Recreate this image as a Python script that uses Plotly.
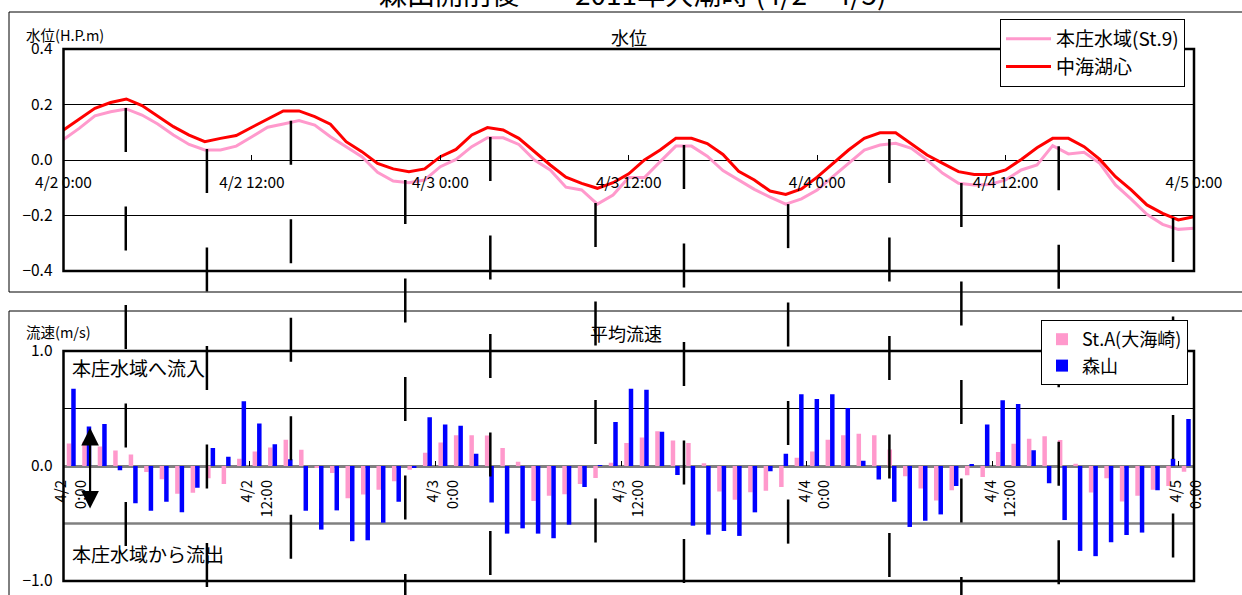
import pandas as pd
import plotly.graph_objects as go

# ---------------- data ----------------
start = pd.Timestamp("2011-04-02 00:00")
times = pd.date_range(start, periods=73, freq="h")

# water level (H.P. m), hourly 4/2 0:00 .. 4/5 0:00
level_honjo = [0.074, 0.114, 0.159, 0.174, 0.184, 0.162, 0.130, 0.090, 0.056, 0.036,
               0.036, 0.050, 0.084, 0.118, 0.130, 0.142, 0.126, 0.084, 0.048, 0.012,
               -0.044, -0.076, -0.082, -0.072, -0.024, 0.002, 0.048, 0.080, 0.080, 0.056,
               0.000, -0.036, -0.098, -0.108, -0.159, -0.126, -0.063, -0.063, -0.006, 0.050,
               0.050, 0.014, -0.038, -0.072, -0.106, -0.134, -0.159, -0.140, -0.108, -0.060,
               -0.012, 0.036, 0.054, 0.060, 0.042, 0.000, -0.048, -0.084, -0.090, -0.088,
               -0.072, -0.036, -0.018, 0.052, 0.022, 0.028, -0.012, -0.090, -0.141, -0.196,
               -0.232, -0.250, -0.246]
level_nakaumi = [0.108, 0.147, 0.186, 0.207, 0.220, 0.196, 0.159, 0.120, 0.090, 0.066,
                 0.078, 0.088, 0.118, 0.148, 0.177, 0.177, 0.156, 0.129, 0.066, 0.030,
                 -0.012, -0.032, -0.042, -0.032, 0.012, 0.038, 0.090, 0.117, 0.108, 0.078,
                 0.030, -0.018, -0.062, -0.084, -0.102, -0.082, -0.050, 0.000, 0.036, 0.078,
                 0.078, 0.059, 0.020, -0.041, -0.072, -0.112, -0.124, -0.104, -0.062, -0.014,
                 0.036, 0.078, 0.098, 0.098, 0.058, 0.018, -0.012, -0.042, -0.052, -0.052,
                 -0.036, 0.002, 0.044, 0.078, 0.078, 0.048, 0.002, -0.060, -0.108, -0.162,
                 -0.192, -0.216, -0.204]

# mean current velocity (m/s), hourly
vel_sta = [0.196, 0.210, 0.170, 0.135, 0.100, -0.052, -0.115, -0.242, -0.233, -0.107,
           -0.156, 0.063, 0.127, 0.161, 0.228, 0.141, -0.017, -0.060, -0.280, -0.248,
           -0.207, -0.133, -0.032, 0.115, 0.205, 0.268, 0.268, 0.265, 0.156, 0.037,
           -0.305, -0.259, -0.245, -0.156, -0.104, 0.029, 0.200, 0.248, 0.303, 0.222,
           0.200, 0.023, -0.222, -0.294, -0.228, -0.216, -0.182, 0.072, 0.127, 0.228,
           0.268, 0.280, 0.268, 0.144, -0.089, -0.196, -0.300, -0.210, -0.081, -0.095,
           0.121, 0.193, 0.236, 0.259, 0.225, 0.020, -0.231, -0.107, -0.308, -0.259,
           -0.207, -0.173, -0.049]
vel_moriyama = [0.671, 0.343, 0.366, -0.037, -0.323, -0.389, -0.311, -0.403, -0.190, 0.156,
                0.081, 0.562, 0.369, 0.190, 0.058, -0.389, -0.553, -0.386, -0.654, -0.646,
                -0.493, -0.311, -0.017, 0.424, 0.360, 0.349, 0.107, -0.317, -0.588, -0.542,
                -0.588, -0.628, -0.510, -0.182, 0.005, 0.383, 0.671, 0.663, 0.297, -0.078,
                -0.519, -0.597, -0.565, -0.608, -0.403, -0.046, 0.107, 0.625, 0.582, 0.625,
                0.504, 0.046, -0.118, -0.311, -0.530, -0.476, -0.421, -0.173, 0.012, 0.360,
                0.571, 0.539, 0.138, -0.150, -0.470, -0.738, -0.784, -0.663, -0.600, -0.579,
                -0.210, 0.063, 0.409]

# high / low water marks (time, level where the mark starts)
tide_times = ["2011-04-02 03:58", "2011-04-02 09:08", "2011-04-02 14:29", "2011-04-02 21:46",
              "2011-04-03 03:11", "2011-04-03 09:53", "2011-04-03 15:31", "2011-04-03 22:09",
              "2011-04-04 04:36", "2011-04-04 09:11", "2011-04-04 15:23", "2011-04-04 22:40"]
tide_levels = [0.187, 0.040, 0.141, -0.072, 0.083, -0.155, 0.054, -0.159, 0.076, -0.083, 0.050, -0.209]

tick_times = pd.date_range(start, periods=7, freq="12h")
top_tick_labels = ["4/2 0:00", "4/2 12:00", "4/3 0:00", "4/3 12:00", "4/4 0:00", "4/4 12:00", "4/5 0:00"]
bottom_tick_labels = ["4/2<br>0:00", "4/2<br>12:00", "4/3<br>0:00", "4/3<br>12:00",
                      "4/4<br>0:00", "4/4<br>12:00", "4/5<br>0:00"]

# ---------------- layout geometry ----------------
W, H = 1242, 595
def px_x(p):
    return p / W
def px_y(p):
    return 1 - p / H

FONT = "Noto Sans CJK JP, Noto Sans, sans-serif"
x_dom = [px_x(63.5), px_x(1194)]
y_dom = [px_y(271), px_y(49)]
y2_dom = [px_y(581), px_y(351)]

half_h = pd.Timedelta(minutes=30)
PINK = "#FF99CC"

fig = go.Figure()

fig.add_trace(go.Scatter(x=times, y=level_honjo, mode="lines", name="本庄水域(St.9)",
                         line=dict(color=PINK, width=3), xaxis="x", yaxis="y", legend="legend"))
fig.add_trace(go.Scatter(x=times, y=level_nakaumi, mode="lines", name="中海湖心",
                         line=dict(color="#FF0000", width=3), xaxis="x", yaxis="y", legend="legend"))

fig.add_trace(go.Bar(x=times, y=vel_sta, name="St.A(大海崎)", marker=dict(color=PINK, line_width=0),
                     xaxis="x2", yaxis="y2", legend="legend2"))
fig.add_trace(go.Bar(x=times, y=vel_moriyama, name="森山", marker=dict(color="#0000FF", line_width=0),
                     xaxis="x2", yaxis="y2", legend="legend2"))

# empty trace so the full-height overlay subplot exists
fig.add_trace(go.Scatter(x=[], y=[], xaxis="x3", yaxis="y3", showlegend=False, hoverinfo="skip"))

# overlay axis sharing the top chart's vertical scale but spanning the whole figure
k = 0.8 / (y_dom[1] - y_dom[0])
y3_lo = -0.4 - k * y_dom[0]
y3_hi = 0.4 + k * (1 - y_dom[1])

tickfont = dict(family=FONT, size=15.5, color="black")

fig.update_layout(
    template="none",
    width=W, height=H,
    margin=dict(l=0, r=0, t=0, b=0, pad=0),
    paper_bgcolor="white", plot_bgcolor="rgba(0,0,0,0)",
    font=dict(family=FONT, color="black"),
    barmode="group", bargap=0.42, bargroupgap=0,
    xaxis=dict(domain=x_dom, type="date", range=[times[0], times[-1]],
               anchor="free", position=(y_dom[0] + y_dom[1]) / 2, automargin=False,
               tickmode="array", tickvals=tick_times, ticktext=top_tick_labels,
               ticks="inside", ticklen=5, tickcolor="black", tickwidth=1,
               showgrid=False, showline=False, zeroline=False,
               tickfont=tickfont, ticklabelstandoff=11),
    yaxis=dict(domain=y_dom, range=[-0.4, 0.4], anchor="x", automargin=False,
               tickmode="array", tickvals=[-0.4, -0.2, 0, 0.2, 0.4], tickformat=".1f",
               showgrid=True, gridcolor="black", gridwidth=1,
               zeroline=True, zerolinecolor="black", zerolinewidth=1,
               showline=False, ticks="", tickfont=dict(family=FONT, size=15.5, color="black"),
               ticklabelstandoff=10),
    xaxis2=dict(domain=x_dom, type="date", range=[times[0] - half_h, times[-1] + half_h],
                anchor="free", position=(y2_dom[0] + y2_dom[1]) / 2, automargin=False,
                tickmode="array", tickvals=tick_times, ticktext=bottom_tick_labels,
                tickangle=-90, ticks="",
                minor=dict(tickmode="array", tickvals=[t - half_h for t in tick_times[1:]],
                           ticks="inside", ticklen=5, tickcolor="black", showgrid=False),
                showgrid=False, showline=False, zeroline=False,
                tickfont=dict(family=FONT, size=15, color="black"), ticklabelstandoff=10),
    yaxis2=dict(domain=y2_dom, range=[-1, 1], anchor="x2", automargin=False,
                tickmode="array", tickvals=[-1, -0.5, 0, 0.5, 1],
                ticktext=["−1.0", "", "0.0", "", "1.0"],
                showgrid=False, zeroline=True, zerolinecolor="#808080", zerolinewidth=2.5,
                showline=False, ticks="", tickfont=dict(family=FONT, size=15.5, color="black"),
                ticklabelstandoff=10),
    xaxis3=dict(domain=x_dom, type="date", range=[times[0], times[-1]], anchor="y3",
                visible=False, automargin=False),
    yaxis3=dict(domain=[0, 1], range=[y3_lo, y3_hi], anchor="x3", visible=False, automargin=False),
    legend=dict(x=px_x(1185), xanchor="right", y=px_y(19), yanchor="top",
                bgcolor="white", bordercolor="black", borderwidth=1, itemwidth=45,
                font=dict(family=FONT, size=19, color="black"), traceorder="normal"),
    legend2=dict(x=px_x(1188), xanchor="right", y=px_y(320), yanchor="top",
                 bgcolor="white", bordercolor="black", borderwidth=1,
                 font=dict(family=FONT, size=18, color="black"), traceorder="normal"),
)

shapes = []
# outer chart frames
shapes.append(dict(type="rect", xref="paper", yref="paper", x0=px_x(9), x1=1.02,
                   y0=px_y(292), y1=px_y(12), line=dict(color="black", width=1), layer="above"))
shapes.append(dict(type="rect", xref="paper", yref="paper", x0=px_x(9), x1=1.02,
                   y0=-0.05, y1=px_y(311), line=dict(color="black", width=1), layer="above"))
# grid lines of the velocity chart
shapes.append(dict(type="line", xref="x2 domain", yref="y2", x0=0, x1=1, y0=0.5, y1=0.5,
                   line=dict(color="black", width=1), layer="below"))
shapes.append(dict(type="line", xref="x2 domain", yref="y2", x0=0, x1=1, y0=-0.5, y1=-0.5,
                   line=dict(color="#808080", width=2.5), layer="below"))
# plot-area borders
shapes.append(dict(type="rect", xref="x domain", yref="y domain", x0=0, x1=1, y0=0, y1=1,
                   line=dict(color="black", width=2.5), layer="above"))
shapes.append(dict(type="rect", xref="x2 domain", yref="y2 domain", x0=0, x1=1, y0=0, y1=1,
                   line=dict(color="black", width=2.5), layer="above"))
# high/low water marks
for t, lv in zip(tide_times, tide_levels):
    shapes.append(dict(type="line", xref="x3", yref="y3", x0=t, x1=t, y0=lv, y1=y3_lo,
                       line=dict(color="black", width=2.5, dash="44px,54.5px"), layer="above"))
fig.update_layout(shapes=shapes)

ann = []
ann.append(dict(text="森山開削後　　2011年大潮時 (4/2～4/5)", xref="paper", yref="paper",
                x=px_x(632), y=1, xanchor="center", yanchor="middle", yshift=7,
                showarrow=False, font=dict(family=FONT, size=28, color="black")))
ann.append(dict(text="水位", xref="paper", yref="paper", x=px_x(629), y=px_y(37),
                xanchor="center", yanchor="middle", showarrow=False,
                font=dict(family=FONT, size=18, color="black")))
ann.append(dict(text="水位(H.P.m)", xref="paper", yref="paper", x=px_x(24), y=px_y(34),
                xanchor="left", yanchor="middle", showarrow=False,
                font=dict(family=FONT, size=14.5, color="black")))
ann.append(dict(text="平均流速", xref="paper", yref="paper", x=px_x(626), y=px_y(333),
                xanchor="center", yanchor="middle", showarrow=False,
                font=dict(family=FONT, size=18, color="black")))
ann.append(dict(text="流速(m/s)", xref="paper", yref="paper", x=px_x(24), y=px_y(331),
                xanchor="left", yanchor="middle", showarrow=False,
                font=dict(family=FONT, size=14.5, color="black")))
ann.append(dict(text="本庄水域へ流入", xref="paper", yref="paper", x=px_x(70), y=px_y(367),
                xanchor="left", yanchor="middle", showarrow=False,
                font=dict(family=FONT, size=19, color="black")))
ann.append(dict(text="本庄水域から流出", xref="paper", yref="paper", x=px_x(70), y=px_y(553),
                xanchor="left", yanchor="middle", showarrow=False,
                font=dict(family=FONT, size=19, color="black")))
# inflow / outflow double arrow
ann.append(dict(text="", xref="x2", yref="y2", x="2011-04-02 01:13", y=-0.37,
                axref="x2", ayref="y2", ax="2011-04-02 01:13", ay=0.345,
                showarrow=True, arrowhead=2, arrowside="end+start", arrowsize=1.6,
                arrowwidth=2.2, arrowcolor="black"))
fig.update_layout(annotations=ann)

fig.write_html("out.html", config={"displayModeBar": False},
               post_script="document.body.style.margin='0px';")
